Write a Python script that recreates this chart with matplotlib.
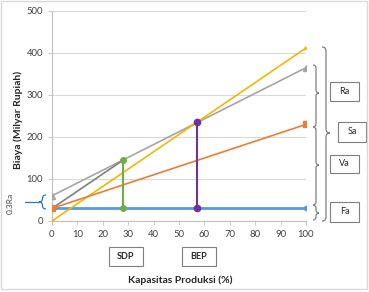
import numpy as np
import matplotlib.pyplot as plt
from matplotlib.path import Path
from matplotlib.patches import PathPatch, Rectangle

# data
x_ends = [0, 100]
fa = [30, 30]          # fixed cost (blue)
tc = [30, 230]         # total cost (orange)
ra = [60, 365]         # gray line
sa = [0, 412]          # revenue (yellow)
sdp_x = [28, 28]
sdp_y = [30, 145]
sdp_link_x = [0, 28]
sdp_link_y = [30, 145]
bep_x = [57, 57]
bep_y = [30, 235]

plt.rcParams['font.family'] = ['Lato', 'DejaVu Sans']

fig = plt.figure(figsize=(3.69, 2.92), dpi=100)
ax = fig.add_axes([52 / 369, 1 - 221 / 292, (306 - 52) / 369, (221 - 11) / 292])

ax.plot(x_ends, fa, color='#5b9bd5', lw=2, marker='o', ms=3, zorder=3)
ax.plot(x_ends, tc, color='#ed7d31', lw=1.2, marker='s', ms=4, zorder=4)
ax.plot(x_ends, ra, color='#a5a5a5', lw=1.2, marker='^', ms=4, zorder=3)
ax.plot(x_ends, sa, color='#f2b800', lw=1.2, marker='x', ms=3, mew=0.8, zorder=3)
ax.plot(sdp_link_x, sdp_link_y, color='#7f7f7f', lw=1.2, zorder=3)
ax.plot(sdp_x, sdp_y, color='#70ad47', lw=1.5, marker='o', ms=4, zorder=5)
ax.plot(bep_x, bep_y, color='#7030a0', lw=1.5, marker='o', ms=4.5, zorder=5)

ax.set_xlim(0, 100)
ax.set_ylim(0, 500)
ax.set_xticks(range(0, 101, 10))
ax.set_yticks(range(0, 501, 100))
ax.yaxis.grid(True, color='#d9d9d9', lw=0.8)
ax.set_axisbelow(True)
for s in ['top', 'right']:
    ax.spines[s].set_visible(False)
for s in ['left', 'bottom']:
    ax.spines[s].set_color('#bfbfbf')
    ax.spines[s].set_linewidth(0.8)
ax.tick_params(axis='both', labelsize=6.8, colors='#404040', length=3, width=0.6)
ax.tick_params(axis='both', color='#bfbfbf')

# overlay in pixel coordinates for annotations
ov = fig.add_axes([0, 0, 1, 1], facecolor='none')
ov.set_xlim(0, 369)
ov.set_ylim(292, 0)
ov.axis('off')

ov.text(18, 120, 'Biaya (Milyar Rupiah)', rotation=90, ha='center', va='center',
        fontsize=7.5, fontweight='bold', color='#262626')
ov.text(180, 280, 'Kapasitas Produksi (%)', ha='center', va='center',
        fontsize=7.5, fontweight='bold', color='#262626')


def brace(x0, w, yt, yb, ym, color, lw=0.9, left=False):
    s = -1 if left else 1
    h = s * w / 2
    r = min(abs(w) / 2, (ym - yt) / 2, (yb - ym) / 2)
    verts = [(x0, yt), (x0 + h, yt), (x0 + h, yt + r),
             (x0 + h, ym - r),
             (x0 + h, ym), (x0 + s * w, ym),
             (x0 + h, ym), (x0 + h, ym + r),
             (x0 + h, yb - r),
             (x0 + h, yb), (x0, yb)]
    codes = [Path.MOVETO, Path.CURVE3, Path.CURVE3, Path.LINETO,
             Path.CURVE3, Path.CURVE3, Path.CURVE3, Path.CURVE3,
             Path.LINETO, Path.CURVE3, Path.CURVE3]
    ov.add_patch(PathPatch(Path(verts, codes), fill=False, ec=color, lw=lw))


def box(x, y, w, h, text, bold=False):
    ov.add_patch(Rectangle((x, y), w, h, fill=True, fc='white', ec='#7f7f7f', lw=0.8))
    ov.text(x + w / 2, y + h / 2, text, ha='center', va='center', fontsize=6.5,
            fontweight='bold' if bold else 'normal', color='#262626')


brace(322, 8, 47, 221, 133, '#7f7f7f')
brace(313, 6, 65, 127, 93, '#7f7f7f')
brace(313, 6, 127, 205, 165, '#7f7f7f')
brace(313, 6, 205, 220, 213, '#7f7f7f')

box(330, 82, 29, 19, 'Ra')
box(338, 122, 28, 20, 'Sa')
box(330, 155, 29, 18, 'Va')
box(330, 202, 29, 20, 'Fa')

box(109, 247, 34, 19, 'SDP', bold=True)
box(182, 247, 34, 19, 'BEP', bold=True)

brace(46, 7, 195, 209, 202, '#2e75b6', lw=0.9, left=True)
ov.plot([25, 39], [202, 202], color='#2e75b6', lw=0.9)
ov.text(10, 203, '0.3Ra', rotation=90, ha='center', va='center', fontsize=6, color='#404040')

ov.add_patch(Rectangle((1, 1), 366, 288, fill=False, ec='#d9d9d9', lw=1))

fig.savefig('out.png', dpi=100)
